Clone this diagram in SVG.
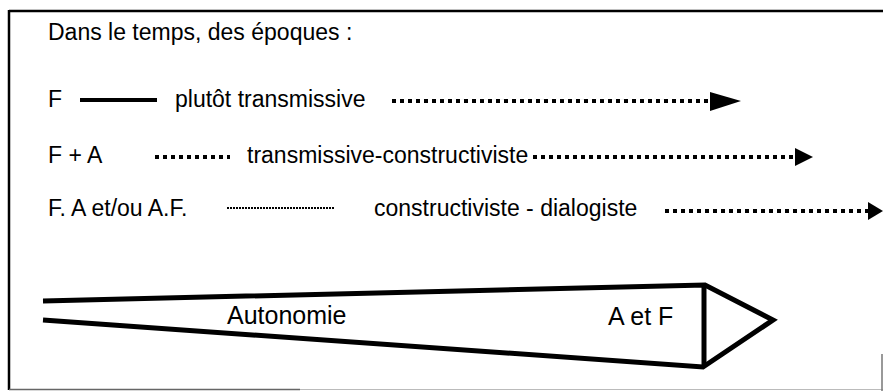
<svg xmlns="http://www.w3.org/2000/svg" width="883" height="391" viewBox="0 0 883 391">
<style>
text{font-family:"Liberation Sans",Arial,sans-serif;fill:#000;font-size:23px}
.big{font-size:25px}
.dots{stroke:#000;stroke-width:4;stroke-dasharray:4 4;fill:none}
.fine{stroke:#000;stroke-width:2;stroke-dasharray:2 1;fill:none}
.thick{stroke:#000;stroke-width:5;fill:none;stroke-linejoin:miter}
</style>
<rect width="883" height="391" fill="#fff"/>
<g id="frame">
<path d="M9 11 H883" stroke="#000" stroke-width="2.5"/>
<path d="M9 10 V390" stroke="#000" stroke-width="2.5"/>
<path d="M9 389.5 H300" stroke="#666" stroke-width="1.5"/>
<path d="M300 389.5 H883" stroke="#bbb" stroke-width="1"/>
<path d="M882 354 V391" stroke="#777" stroke-width="1.5"/>
</g>
<g id="title"><text x="48" y="40">Dans le temps, des époques :</text></g>
<g id="row1">
<text x="48" y="107">F</text>
<text x="175" y="107">plutôt transmissive</text>
</g>
<g id="row2">
<text x="48" y="163">F + A</text>
<text x="247" y="163">transmissive-constructiviste</text>
</g>
<g id="row3">
<text x="48" y="216">F. A et/ou A.F.</text>
<text x="374" y="216">constructiviste - dialogiste</text>
</g>
<g id="connectors">
<path d="M80 100 H157" stroke="#000" stroke-width="4"/>
<path class="dots" d="M392 101 H710"/>
<polygon points="710,92 741,101 710,111"/>
<path class="dots" d="M155 157 H230"/>
<path class="dots" d="M533 157 H795"/>
<polygon points="795,148 813,157 795,166"/>
<path class="fine" d="M227 208 H335"/>
<path class="dots" d="M665 211 H868"/>
<polygon points="868,202 883,211 868,220"/>
</g>
<g id="autonomie">
<path class="thick" d="M43 301 L705 285 L773 320 L703 367 L43 320"/>
<path class="thick" d="M704 285 V367"/>
<text class="big" x="227" y="324">Autonomie</text>
<text class="big" x="608" y="325">A et F</text>
</g>
</svg>
